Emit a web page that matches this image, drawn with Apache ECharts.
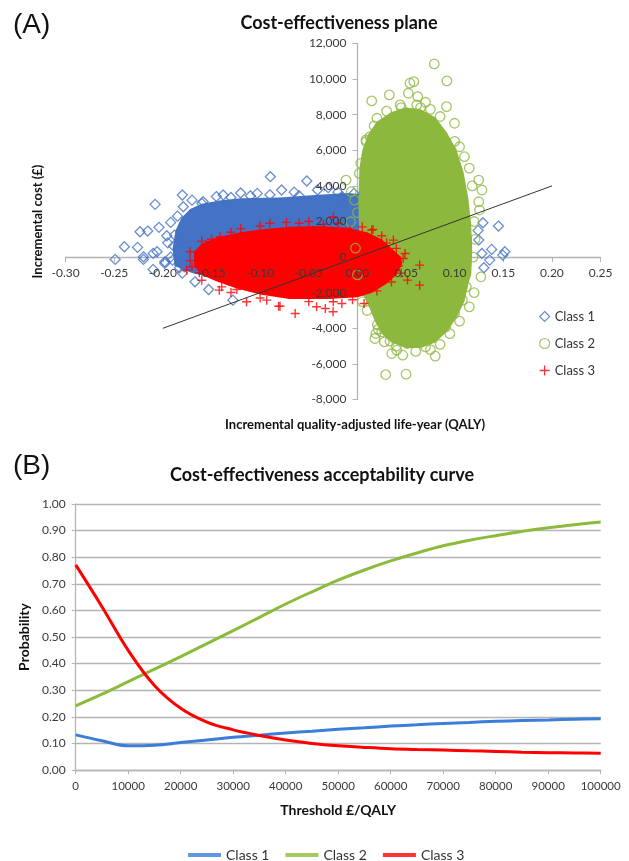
<!DOCTYPE html>
<html><head><meta charset="utf-8">
<script src="https://cdn.jsdelivr.net/npm/echarts@6/dist/echarts.min.js"></script>
<style>html,body{margin:0;padding:0;background:#fff}#c{width:629px;height:861px}</style>
</head><body><div id="c"></div>
<script>
// ---------- Panel A: cost-effectiveness plane (QALY, £) ----------
const class1Points = [
  [-0.180,3487],[-0.208,2963],[-0.179,2830],[-0.160,3020],[-0.192,1950],[-0.204,1670],[-0.2235,1425],
  [-0.2156,1462],[-0.2396,580],[-0.226,545],[-0.249,-130],[-0.206,300],[-0.220,-130],[-0.198,-264],
  [-0.210,-690],[-0.189,620],[-0.190,-170],[-0.178,-545],[-0.188,1237],[-0.220,17],[-0.210,208],
  [-0.198,-355],[-0.167,-1389],[-0.153,-1818],[-0.128,-2418],
  [-0.0895,4517],[-0.052,4274],[-0.138,3487],[-0.103,3580],[-0.078,3768],[-0.041,3768],[-0.1586,3110],
  [-0.016,3392],[-0.0035,3580],[-0.12,3600],[-0.065,3650],[-0.03,3900],[-0.17,3200],[-0.145,3400],
  [-0.11,3450],[-0.09,3500],[-0.13,3350],[-0.06,3450],[-0.02,3650],
  [0.145,1743],[0.138,433],[0.1515,300],[0.1495,112],[0.136,-169],[0.129,1930],[0.1247,956],
  [0.128,206],[0.124,1500],[0.13,-600],
  [-0.195,800],[-0.192,0],[-0.196,1200],[-0.185,2300],[-0.183,-600],[-0.18,-900]
];
const class2Points = [
  [0.0147,8773],[0.0328,9110],[0.0523,9205],[0.054,9770],[0.058,9860],[0.079,10850],[0.092,9900],
  [0.062,9017],[0.0916,8450],[0.061,8550],[0.044,8550],[0.025,7420],[0.013,6770],[0.0172,7370],
  [0.0088,6580],[0.0998,7520],[0.11,5640],[0.1247,4330],[0.128,3770],[0.1247,3110],[0.1255,2643],
  [0.127,-1107],[-0.0117,4330],[-0.0064,3673],[0.002,4700],[-0.007,1985],[0.009,6480],[0.0034,5270],
  [0.0205,-3787],[0.0215,-4050],[0.0277,-4763],[0.0335,-4724],[0.0353,-5416],[0.0404,-5230],
  [0.0466,-5511],[0.0291,-6598],[0.050,-6580],[0.0513,-4855],[0.080,-5568],[0.070,-5043],
  [0.019,-4293],[0.018,-4574],[0.0998,-3167],[0.108,-2418],[0.112,-1670],[0.0908,-3920],
  [0.075,8300],[0.07,8700],[0.085,7900],[0.1,6500],[0.105,6200],[0.115,5000],[0.118,4000],
  [0.12,2000],[0.121,1000],[0.119,0],[0.12,-2000],[0.115,-2800],[0.105,-3600],[0.095,-4300],
  [0.085,-4900],[0.06,-5300],[0.075,-5200],[0.04,-5000],[0.025,-4200],[0.01,-3000],[0.005,-2500],
  [0.0,-1000],[-0.002,500],[0.0,2500],[-0.003,3200],[0.03,8200],[0.02,7800],[0.045,8400],[0.065,8400]
];
const class3Points = [
  [-0.073,1950],[0.0147,1518],[0.037,956],[0.040,488],[0.049,206],[0.047,-75],[-0.0248,2267],
  [-0.0076,1518],[0.064,-450],[0.064,-1575],[0.0515,-1293],[0.016,1557],
  [-0.064,-3168],[-0.042,-2793],[-0.033,-2887],[-0.025,-3074],[-0.016,-2605],[0.0068,-2605],
  [-0.0248,-2512],[-0.081,-2756],[-0.114,-2512],[-0.142,-1856],[-0.130,-1988],
  [-0.1755,-731],[-0.170,-544],[-0.1625,-881],[-0.1395,-1670],[-0.124,-1820],[-0.0932,-2418],
  [-0.0796,-2756],[-0.155,675],[-0.141,1142],
  [-0.12,1600],[-0.10,1750],[-0.09,1900],[-0.06,1900],[-0.05,2000],[-0.035,1850],[-0.02,1900],
  [0.005,1700],[-0.13,1400],[-0.15,1000],[-0.16,900],[0.025,1200],[0.03,800],[0.042,-500],
  [0.045,-900],[0.035,-1400],[0.02,-1900],[-0.005,-2400],[-0.05,-2500],[-0.1,-2300],[-0.16,-1300],
  [-0.172,-200],[-0.172,300]
];
// dense (solid-looking) region outlines of each cloud
const class1Core = [
  [-0.188,-500],[-0.190,500],[-0.187,1500],[-0.181,2200],[-0.172,2700],[-0.16,3000],[-0.14,3200],
  [-0.12,3300],[-0.08,3350],[-0.04,3500],[-0.01,3600],[0.01,3500],[0.05,3200],[0.10,2800],[0.115,2000],
  [0.118,800],[0.115,-500],[0.10,-1500],[0.05,-2000],[0.0,-2200],[-0.05,-2200],[-0.10,-1900],
  [-0.14,-1300],[-0.17,-900]
];
const class2Core = [
  [0.003,-1500],[0.002,1000],[0.001,3000],[0.002,5000],[0.005,6000],[0.011,6900],[0.02,7600],
  [0.035,8150],[0.05,8400],[0.065,8300],[0.08,7850],[0.092,7000],[0.102,6000],[0.109,4800],
  [0.114,3300],[0.117,1800],[0.118,300],[0.117,-1000],[0.115,-1300],[0.11,-2500],[0.102,-3400],
  [0.092,-4200],[0.08,-4800],[0.065,-5100],[0.05,-5100],[0.035,-4800],[0.025,-4300],[0.018,-3600],
  [0.012,-2800],[0.006,-2100]
];
const class3Core = [
  [-0.168,-500],[-0.168,300],[-0.160,750],[-0.145,1100],[-0.12,1400],[-0.10,1550],[-0.07,1700],
  [-0.04,1750],[-0.01,1650],[0.01,1400],[0.025,1000],[0.035,500],[0.045,0],[0.046,-400],
  [0.04,-1000],[0.03,-1500],[0.015,-2000],[0.0,-2250],[-0.03,-2350],[-0.07,-2350],[-0.10,-2100],
  [-0.125,-1750],[-0.145,-1350],[-0.16,-1000]
];
const thresholdLine = [[-0.2,-4000],[0.2,4000]];

// ---------- Panel B: CEAC ----------
const thresholds = [0,5000,10000,15000,20000,25000,30000,35000,40000,45000,50000,55000,60000,65000,70000,75000,80000,85000,90000,95000,100000];
const ceacClass1 = [0.132,0.110,0.091,0.093,0.103,0.113,0.123,0.131,0.139,0.146,0.153,0.159,0.165,0.170,0.175,0.179,0.183,0.186,0.188,0.191,0.193];
const ceacClass2 = [0.241,0.285,0.332,0.379,0.426,0.475,0.524,0.574,0.624,0.670,0.714,0.752,0.786,0.816,0.843,0.864,0.881,0.897,0.911,0.922,0.932];
const ceacClass3 = [0.771,0.614,0.450,0.318,0.232,0.180,0.151,0.130,0.113,0.100,0.091,0.085,0.080,0.077,0.075,0.072,0.070,0.067,0.065,0.064,0.063];

const seriesNames = ['Class 1','Class 2','Class 3'];

const C1 = '#4472C4', C2 = '#8DB83E', C3 = '#FF0000';
const L1 = '#3B7DD8', L2 = '#8CBB3C', L3 = '#FF0000';
const FONT = 'Lato, "Open Sans", sans-serif';
const AXIS_GRAY = '#B4B4B4';
const LABEL_COL = '#3a3a3a';
const CLEAR = 'rgba(0,0,0,0)';
const PLUS = 'path://M0,5L10,5M5,0L5,10';

// top grid geometry; axes cross at (0,0)
const GA = {left:65.6, right:28.4, top:43.5, bottom:461.5};
const W = 629, H = 861;
const GA_W = W - GA.left - GA.right, GA_H = H - GA.top - GA.bottom;
const X_MIN = -0.3, X_MAX = 0.25, Y_MIN = -8000, Y_MAX = 12000;
// offsets move the axis lines from the grid edge to the zero of the other axis
const xAxisOffset = -((0 - Y_MIN) / (Y_MAX - Y_MIN)) * GA_H;
const yAxisOffset = -((0 - X_MIN) / (X_MAX - X_MIN)) * GA_W;

function commas(v){ const s = String(Math.abs(v)).replace(/\B(?=(\d{3})+(?!\d))/g, ','); return (v<0?'-':'') + s; }
function pair(a){ return thresholds.map((t,i)=>[t,a[i]]); }
function coreSeries(name, pts, color){
  return {
    type:'custom', name:name, xAxisIndex:0, yAxisIndex:0, silent:true, data:pts,
    encode:{x:0,y:1},
    renderItem:function(params, api){
      if(params.dataIndex !== 0) return null;
      return {type:'polygon', shape:{points:pts.map(p=>api.coord(p))}, style:{fill:color}};
    }
  };
}
const xLabelTop = {fontFamily:FONT, fontSize:12, color:LABEL_COL, margin:10, formatter:v=>v.toFixed(2)};
const yLabelTop = {fontFamily:FONT, fontSize:12, color:LABEL_COL, margin:11, formatter:commas};

const chart = echarts.init(document.getElementById('c'), null, {renderer:'canvas'});
chart.setOption({
  animation:false,
  backgroundColor:'#fff',
  textStyle:{fontFamily:FONT},
  title:[
    {text:'Cost-effectiveness plane', left:334, top:9, textAlign:'center',
     textStyle:{fontFamily:FONT, fontWeight:'bold', fontSize:18, color:'#111'}},
    {text:'Cost-effectiveness acceptability curve', left:317, top:461, textAlign:'center',
     textStyle:{fontFamily:FONT, fontWeight:'bold', fontSize:18, color:'#111'}}
  ],
  graphic:[
    {type:'text', left:13, top:11, style:{text:'(A)', font:'28px "Liberation Sans", Arial, sans-serif', fill:'#111'}},
    {type:'text', left:13, top:452, style:{text:'(B)', font:'28px "Liberation Sans", Arial, sans-serif', fill:'#111'}}
  ],
  legend:[
    {orient:'vertical', left:534, top:305, itemGap:14, itemWidth:10, itemHeight:10,
     textStyle:{fontFamily:FONT, fontSize:13, color:'#333'},
     data:[
       {name:'Class 1', icon:'diamond', itemStyle:{color:CLEAR, borderColor:C1, borderWidth:1.2}},
       {name:'Class 2', icon:'circle', itemStyle:{color:CLEAR, borderColor:C2, borderWidth:1.2}},
       {name:'Class 3', icon:PLUS, itemStyle:{color:CLEAR, borderColor:C3, borderWidth:1.3}}
     ]},
    {orient:'horizontal', left:183, top:843, itemGap:16, itemWidth:33, itemHeight:4,
     textStyle:{fontFamily:FONT, fontSize:14, color:'#333'},
     data:[
       {name:'Class 1', icon:'rect', itemStyle:{color:L1, borderWidth:0}},
       {name:'Class 2', icon:'rect', itemStyle:{color:L2, borderWidth:0}},
       {name:'Class 3', icon:'rect', itemStyle:{color:L3, borderWidth:0}}
     ]}
  ],
  grid:[
    {left:GA.left, right:GA.right, top:GA.top, bottom:GA.bottom, containLabel:false, outerBoundsMode:'none'},
    {left:75.7, right:28.3, top:504, bottom:91, containLabel:false, outerBoundsMode:'none'}
  ],
  xAxis:[
    {gridIndex:0, type:'value', min:X_MIN, max:X_MAX, interval:0.05, position:'bottom', offset:xAxisOffset,
     name:'Incremental quality-adjusted life-year (QALY)', nameLocation:'middle', nameGap:161,
     nameTextStyle:{fontFamily:FONT, fontWeight:'bold', fontSize:13, color:'#111', padding:[0,0,0,44]},
     axisLine:{show:true, onZero:false, lineStyle:{color:AXIS_GRAY, width:1.3}},
     axisTick:{show:true, length:5, lineStyle:{color:AXIS_GRAY}},
     axisLabel:{show:false},
     splitLine:{show:false}},
    {gridIndex:1, type:'value', min:0, max:100000, interval:10000,
     name:'Threshold £/QALY', nameLocation:'middle', nameGap:33,
     nameTextStyle:{fontFamily:FONT, fontWeight:'bold', fontSize:14, color:'#111'},
     axisLine:{show:true, lineStyle:{color:AXIS_GRAY, width:1.3}},
     axisTick:{show:true, length:4, lineStyle:{color:AXIS_GRAY}},
     axisLabel:{fontFamily:FONT, fontSize:11.5, color:LABEL_COL, margin:10, formatter:v=>String(v)},
     splitLine:{show:false}},
    // tick labels of panel A drawn above the point clouds
    {gridIndex:0, type:'value', min:X_MIN, max:X_MAX, interval:0.05, position:'bottom', offset:xAxisOffset, z:6,
     axisLine:{show:false, onZero:false}, axisTick:{show:false}, axisLabel:xLabelTop, splitLine:{show:false}}
  ],
  yAxis:[
    {gridIndex:0, type:'value', min:Y_MIN, max:Y_MAX, interval:2000, position:'left', offset:yAxisOffset,
     name:'Incremental cost (£)', nameLocation:'middle', nameGap:313,
     nameTextStyle:{fontFamily:FONT, fontWeight:'bold', fontSize:13, color:'#111'},
     axisLine:{show:true, onZero:false, lineStyle:{color:AXIS_GRAY, width:1.3}},
     axisTick:{show:true, length:5, lineStyle:{color:AXIS_GRAY}},
     axisLabel:{show:false},
     splitLine:{show:false}},
    {gridIndex:1, type:'value', min:0, max:1, interval:0.1,
     name:'Probability', nameLocation:'middle', nameGap:42,
     nameTextStyle:{fontFamily:FONT, fontWeight:'bold', fontSize:14, color:'#111'},
     axisLine:{show:true, lineStyle:{color:AXIS_GRAY, width:1.3}},
     axisTick:{show:true, length:4, lineStyle:{color:AXIS_GRAY}},
     axisLabel:{fontFamily:FONT, fontSize:12, color:LABEL_COL, margin:10, formatter:v=>v.toFixed(2)},
     splitLine:{show:true, lineStyle:{color:AXIS_GRAY, width:1.3}}},
    {gridIndex:0, type:'value', min:Y_MIN, max:Y_MAX, interval:2000, position:'left', offset:yAxisOffset, z:6,
     axisLine:{show:false, onZero:false}, axisTick:{show:false}, axisLabel:yLabelTop, splitLine:{show:false}}
  ],
  series:[
    coreSeries('Class 1 dense', class1Core, C1),
    {type:'scatter', name:seriesNames[0], xAxisIndex:0, yAxisIndex:0, data:class1Points,
     symbol:'diamond', symbolSize:10, itemStyle:{color:CLEAR, borderColor:C1, borderWidth:1.3}},
    coreSeries('Class 2 dense', class2Core, C2),
    {type:'scatter', name:seriesNames[1], xAxisIndex:0, yAxisIndex:0, data:class2Points,
     symbol:'circle', symbolSize:9.5, itemStyle:{color:CLEAR, borderColor:C2, borderWidth:1.3}},
    coreSeries('Class 3 dense', class3Core, C3),
    {type:'scatter', name:seriesNames[2], xAxisIndex:0, yAxisIndex:0, data:class3Points,
     symbol:PLUS, symbolSize:9,
     itemStyle:{color:CLEAR, borderColor:C3, borderWidth:1.4}},
    {type:'line', name:'Threshold line', xAxisIndex:0, yAxisIndex:0, data:thresholdLine,
     symbol:'none', silent:true, lineStyle:{color:'#333', width:1}},
    {type:'line', name:seriesNames[0], xAxisIndex:1, yAxisIndex:1, data:pair(ceacClass1),
     smooth:0.4, symbol:'none', lineStyle:{color:L1, width:3}, itemStyle:{color:L1}},
    {type:'line', name:seriesNames[1], xAxisIndex:1, yAxisIndex:1, data:pair(ceacClass2),
     smooth:0.4, symbol:'none', lineStyle:{color:L2, width:3}, itemStyle:{color:L2}},
    {type:'line', name:seriesNames[2], xAxisIndex:1, yAxisIndex:1, data:pair(ceacClass3),
     smooth:0.4, symbol:'none', lineStyle:{color:L3, width:3}, itemStyle:{color:L3}}
  ]
});
</script>
</body></html>
